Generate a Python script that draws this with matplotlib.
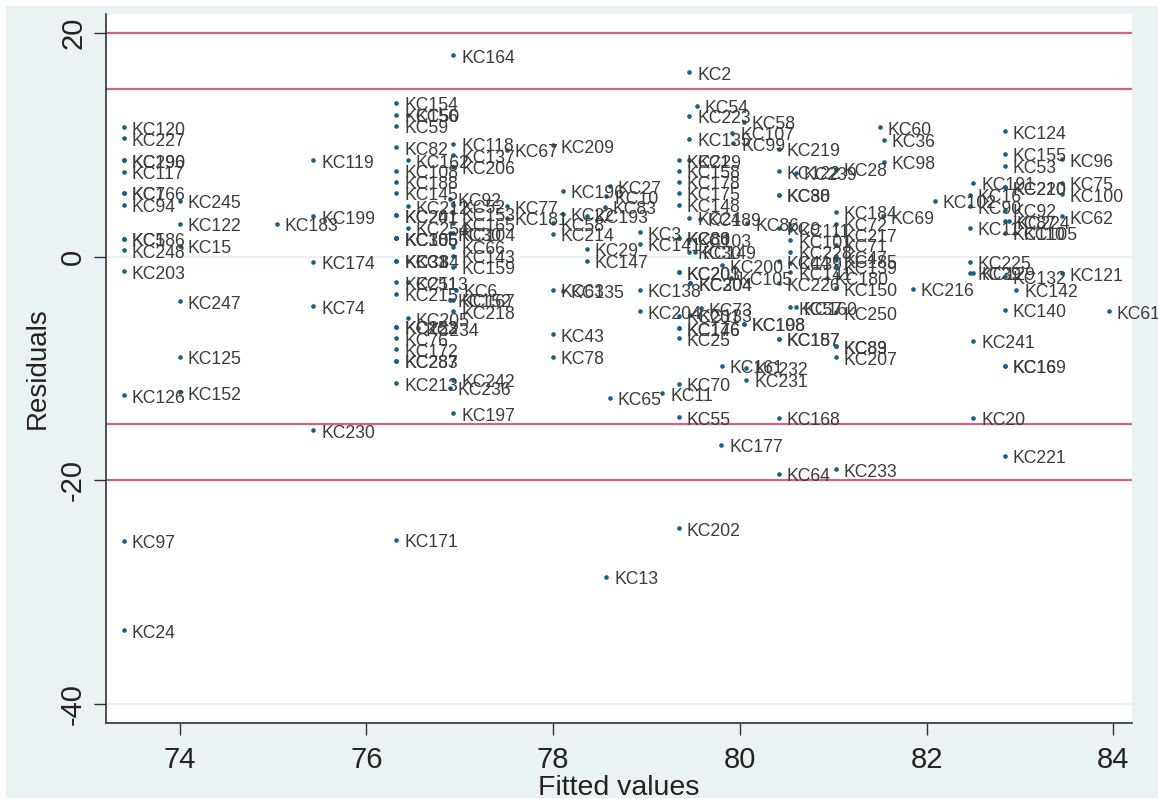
import matplotlib
matplotlib.use('Agg')
import matplotlib.pyplot as plt
from matplotlib.patches import Rectangle

plt.rcParams['font.family'] = ['Liberation Sans', 'DejaVu Sans']
plt.rcParams['axes.unicode_minus'] = False

# values: label, fitted, residual
labels_a = ['KC120', 'KC227', 'KC190', 'KC296', 'KC117', 'KC7', 'KC166', 'KC94', 'KC5', 'KC186', 'KC248', 'KC203',
            'KC126', 'KC97', 'KC24', 'KC245', 'KC122', 'KC15', 'KC247', 'KC125', 'KC152', 'KC183',
            'KC119', 'KC199', 'KC174', 'KC74', 'KC230']
fitted_a = [73.4, 73.4, 73.4, 73.4, 73.4, 73.4, 73.4, 73.4, 73.4, 73.4, 73.4, 73.4,
            73.4, 73.4, 73.4, 74.0, 74.0, 74.0, 74.0, 74.0, 74.0, 75.04,
            75.43, 75.43, 75.43, 75.43, 75.43]
resid_a = [11.6, 10.6, 8.6, 8.6, 7.6, 5.7, 5.7, 4.65, 1.6, 1.6, 0.57, -1.3,
           -12.4, -25.4, -33.4, 5.0, 2.95, 0.98, -3.96, -8.95, -12.1, 2.95,
           8.6, 3.6, -0.45, -4.45, -15.5]

labels_b = ['KC154', 'KC156', 'KC50', 'KC59', 'KC82', 'KC162', 'KC108', 'KC188', 'KC145', 'KC212', 'KC201', 'KC241',
            'KC254', 'KC305', 'KC185', 'KC106', 'KC33', 'KC84', 'KC31', 'KC251', 'KC113', 'KC215', 'KC205',
            'KC123', 'KC252', 'KC234', 'KC76', 'KC172', 'KC283', 'KC287', 'KC213', 'KC171',
            'KC164', 'KC118', 'KC137', 'KC206', 'KC92', 'KC52', 'KC153', 'KC165', 'KC30', 'KC104', 'KC66',
            'KC143', 'KC159', 'KC6', 'KC152', 'KC167', 'KC218', 'KC242', 'KC236', 'KC197']
fitted_b = [76.32, 76.32, 76.44, 76.32, 76.32, 76.44, 76.32, 76.32, 76.32, 76.44, 76.32, 76.32,
            76.44, 76.32, 76.32, 76.32, 76.32, 76.44, 76.32, 76.32, 76.44, 76.32, 76.44,
            76.32, 76.32, 76.55, 76.32, 76.32, 76.32, 76.32, 76.32, 76.32,
            76.93, 76.93, 76.93, 76.93, 76.89, 76.93, 76.93, 76.93, 76.89, 76.93, 76.93,
            76.93, 76.93, 76.96, 76.89, 76.93, 76.93, 76.93, 76.89, 76.93]
resid_b = [13.75, 12.7, 12.7, 11.7, 9.8, 8.6, 7.7, 6.7, 5.7, 4.5, 3.73, 3.73,
           2.6, 1.67, 1.67, 1.67, -0.36, -0.36, -0.36, -2.27, -2.27, -3.3, -5.5,
           -6.26, -6.26, -6.4, -7.3, -8.3, -9.3, -9.3, -11.3, -25.3,
           18.0, 10.1, 9.05, 8.05, 5.2, 4.6, 3.9, 3.0, 2.1, 2.1, 0.9,
           0.1, -0.9, -2.95, -3.85, -3.85, -4.9, -11.0, -11.7, -14.0]

labels_c = ['KC67', 'KC77', 'KC181', 'KC209', 'KC58', 'KC214', 'KC63', 'KC43', 'KC78', 'KC135', 'KC196', 'KC22',
            'KC29', 'KC147', 'KC193', 'KC27', 'KC10', 'KC83', 'KC65', 'KC13', 'KC3', 'KC141', 'KC138', 'KC204',
            'KC11', 'KC21', 'KC29', 'KC158', 'KC178', 'KC175', 'KC148', 'KC223', 'KC54', 'KC135', 'KC2']
fitted_c = [77.5, 77.5, 77.5, 78.0, 78.0, 78.0, 78.0, 78.0, 78.0, 78.1, 78.1, 78.1,
            78.36, 78.36, 78.36, 78.61, 78.57, 78.55, 78.61, 78.57, 78.93, 78.93, 78.93, 78.93,
            79.17, 79.35, 79.46, 79.35, 79.35, 79.35, 79.35, 79.46, 79.54, 79.46, 79.46]
resid_c = [9.57, 4.5, 3.5, 9.95, 3.0, 2.05, -2.95, -6.95, -8.95, -3.05, 5.9, 3.85,
           0.7, -0.36, 3.67, 6.3, 5.4, 4.45, -12.6, -28.6, 2.2, 1.15, -2.95, -4.9,
           -12.2, 8.6, 8.6, 7.7, 6.7, 5.7, 4.65, 12.6, 13.5, 10.55, 16.5]

labels_d = ['KC58', 'KC107', 'KC99', 'KC24', 'KC189', 'KC86', 'KC80', 'KC88', 'KC103', 'KC30', 'KC149',
            'KC200', 'KC201', 'KC203', 'KC304', 'KC204', 'KC105', 'KC73', 'KC133', 'KC201', 'KC146', 'KC176',
            'KC25', 'KC198', 'KC108', 'KC161', 'KC232', 'KC231', 'KC70', 'KC55', 'KC177', 'KC202',
            'KC219', 'KC122', 'KC239', 'KC38', 'KC80', 'KC9', 'KC111', 'KC101', 'KC228', 'KC39', 'KC44', 'KC141',
            'KC226', 'KC57', 'KC160', 'KC187', 'KC157', 'KC168', 'KC64']
fitted_d = [80.04, 79.92, 79.93, 79.46, 79.57, 80.08, 79.35, 79.35, 79.46, 79.46, 79.52,
            79.81, 79.35, 79.35, 79.47, 79.47, 79.9, 79.58, 79.47, 79.35, 79.35, 79.35,
            79.35, 80.04, 80.04, 79.81, 80.07, 80.07, 79.35, 79.35, 79.8, 79.35,
            80.42, 80.42, 80.6, 80.42, 80.42, 80.42, 80.54, 80.54, 80.54, 80.54, 80.42, 80.54,
            80.42, 80.54, 80.6, 80.42, 80.42, 80.42, 80.42]
resid_d = [12.05, 11.1, 10.15, 3.5, 3.4, 3.0, 1.7, 1.7, 1.5, 0.45, 0.43,
           -0.77, -1.4, -1.4, -2.37, -2.37, -1.9, -4.6, -5.2, -5.3, -6.4, -6.4,
           -7.3, -6.0, -6.0, -9.75, -9.95, -11.0, -11.35, -14.35, -16.8, -24.3,
           9.65, 7.63, 7.5, 5.55, 5.55, 2.6, 2.4, 1.45, 0.43, -0.55, -0.4, -1.4,
           -2.35, -4.5, -4.5, -7.35, -7.35, -14.4, -19.4]

labels_e = ['KC28', 'KC184', 'KC72', 'KC217', 'KC71', 'KC47', 'KC185', 'KC139', 'KC180', 'KC150', 'KC250',
            'KC89', 'KC83', 'KC207', 'KC233', 'KC69', 'KC60', 'KC36', 'KC98', 'KC216', 'KC102']
fitted_e = [81.03, 81.03, 81.03, 81.03, 81.03, 81.03, 81.03, 81.03, 80.93, 81.03, 81.03,
            81.03, 81.03, 81.03, 81.03, 81.53, 81.5, 81.54, 81.54, 81.85, 82.09]
resid_e = [7.87, 4.0, 2.95, 1.97, 1.07, 0.03, -0.3, -0.87, -1.9, -2.8, -4.95,
           -8.0, -8.0, -8.97, -19.0, 3.6, 11.57, 10.47, 8.5, -2.87, 5.0]

labels_f = ['KC191', 'KC16', 'KC90', 'KC11', 'KC225', 'KC39', 'KC129', 'KC241', 'KC20',
            'KC124', 'KC155', 'KC53', 'KC220', 'KC210', 'KC92', 'KC87', 'KC224', 'KC110', 'KC105', 'KC132',
            'KC142', 'KC140', 'KC16', 'KC169', 'KC221', 'KC96', 'KC75', 'KC100', 'KC62', 'KC121', 'KC61']
fitted_f = [82.5, 82.46, 82.46, 82.46, 82.46, 82.46, 82.5, 82.5, 82.5,
            82.84, 82.84, 82.84, 82.84, 82.84, 82.84, 82.84, 82.88, 82.84, 82.95, 82.84,
            82.96, 82.84, 82.84, 82.84, 82.84, 83.45, 83.45, 83.45, 83.45, 83.45, 83.95]
resid_f = [6.6, 5.55, 4.5, 2.6, -0.47, -1.45, -1.45, -7.5, -14.4,
           11.2, 9.2, 8.15, 6.2, 6.2, 4.2, 3.15, 3.15, 2.15, 2.15, -1.76,
           -2.95, -4.75, -9.75, -9.75, -17.8, 8.7, 6.6, 5.6, 3.6, -1.5, -4.9]

labels = labels_a + labels_b + labels_c + labels_d + labels_e + labels_f
fitted = fitted_a + fitted_b + fitted_c + fitted_d + fitted_e + fitted_f
resid = resid_a + resid_b + resid_c + resid_d + resid_e + resid_f

ref_lines = [20, 15, -15, -20]
grid_lines = [20, 0, -40]
x_ticks = [74, 76, 78, 80, 82, 84]
y_ticks = [20, 0, -20, -40]

bg = '#eaf2f3'
W, H = 1158, 799

fig = plt.figure(figsize=(W / 100, H / 100), dpi=100, facecolor='white')
fig.add_artist(Rectangle((6 / W, 1 / H), (W - 6) / W, (H - 7) / H, transform=fig.transFigure,
                         facecolor=bg, edgecolor='none', zorder=-1))

# plot region in pixels: left 106, right 1132, top 14, bottom 723
ax = fig.add_axes([106 / W, (H - 723) / H, (1132 - 106) / W, (723 - 14) / H], facecolor='white')
ax.set_xlim(73.21, 84.2)
ax.set_ylim(-41.7, 21.7)

for v in grid_lines:
    ax.axhline(v, color=bg, lw=1.4, zorder=1)
for v in ref_lines:
    ax.axhline(v, color='#d2657e', lw=1.6, zorder=2)

ax.scatter(fitted, resid, s=11, color='#1a5f85', linewidths=0, zorder=3)
for name, fx, ry in zip(labels, fitted, resid):
    ax.annotate(name, (fx, ry), xytext=(5.6, -2.2), textcoords='offset points',
                va='center', ha='left', fontsize=12.7, color='#3c3c3c', zorder=4)

for s in ['top', 'right']:
    ax.spines[s].set_visible(False)
for s in ['left', 'bottom']:
    ax.spines[s].set_linewidth(1.2)
    ax.spines[s].set_color('#333333')

ax.set_xticks(x_ticks)
ax.set_yticks(y_ticks)
ax.tick_params(axis='x', pad=8)
ax.tick_params(axis='y', pad=5)
ax.tick_params(axis='both', length=8.5, width=1.0, color='#333333', labelsize=21,
               labelcolor='#222222')
for t in ax.get_yticklabels():
    t.set_rotation(90)
    t.set_va('center')
ax.set_xlabel('Fitted values', fontsize=20.5, color='#222222', labelpad=0.5)
ax.set_ylabel('Residuals', fontsize=20, color='#222222', labelpad=6)

fig.savefig('out.png', dpi=100, facecolor=fig.get_facecolor())
